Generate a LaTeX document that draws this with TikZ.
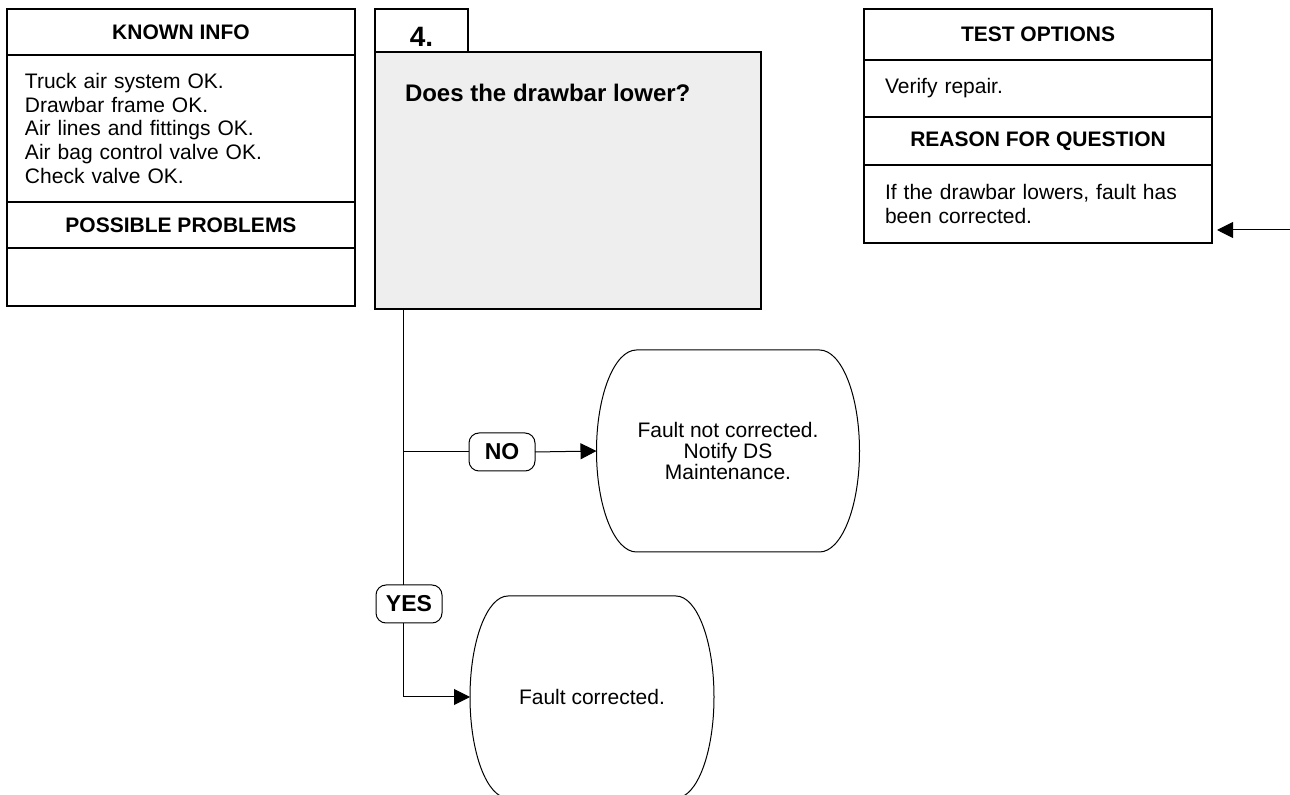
\documentclass[tikz,border=0pt]{standalone}
\usepackage{fontspec}
\setmainfont{Liberation Sans}
\usetikzlibrary{arrows.meta,positioning,calc}
\definecolor{stepgrey}{HTML}{EEEEEE}

\begin{document}
\begin{tikzpicture}[x=0.5pt,y=-0.5pt,
      node distance=0pt,
      every node/.style={outer sep=0pt},
      hdr/.style={draw,line width=0.65pt,minimum width=174pt,inner sep=0pt,
                  font=\fontsize{10.5}{12}\selectfont\bfseries},
      panel/.style={draw,line width=0.65pt,minimum width=174pt,text width=156pt,
                    inner xsep=9pt,inner ysep=0pt,align=left,
                    font=\fontsize{10.5}{11.85}\selectfont},
      steptab/.style={draw,line width=0.65pt,minimum width=46.5pt,minimum height=21.5pt,
                      inner sep=0pt,text height=16.5pt,text depth=0pt,
                      font=\fontsize{14}{14}\selectfont\bfseries},
      stepbox/.style={draw,line width=0.65pt,fill=stepgrey,minimum width=193pt,
                      minimum height=128.5pt,inner sep=0pt},
      terminal/.style={inner sep=0pt,minimum height=101pt,align=center,
                       font=\fontsize{10.5}{10.4}\selectfont},
      tag/.style={draw,line width=0.5pt,rounded corners=5pt,minimum width=33pt,minimum height=19pt,
                  inner sep=0pt,fill=white,font=\fontsize{11.5}{12}\selectfont\bfseries},
      conn/.style={line width=0.5pt},
      arr/.style={conn,-{Triangle[length=8pt,width=8pt]}}]
    \useasboundingbox (0,0) rectangle (1290,795);
    \node[hdr,anchor=north west,minimum height=23pt] (known) at (7,9) {KNOWN INFO};
    \node[panel,below=of known,minimum height=73.5pt] (knownbody) {Truck air system OK.\\ Drawbar frame OK.\\ Air lines and fittings OK.\\ Air bag control valve OK.\\ Check valve OK.};
    \node[hdr,below=of knownbody,minimum height=23pt] (probs) {POSSIBLE PROBLEMS};
    \node[panel,below=of probs,minimum height=29pt] (probsbody) {};
    \node[steptab,anchor=north west] (tab) at (375,9) {4.};
    \node[stepbox,anchor=north west] (stepbody) at (tab.south west) {};
    \node[anchor=base west,inner sep=0pt,font=\fontsize{12}{12}\selectfont\bfseries] (question) at (405,102) {Does the drawbar lower?};
    \node[hdr,anchor=north west,minimum height=25.5pt] (tests) at (864,9) {TEST OPTIONS};
    \node[panel,below=of tests,minimum height=28.5pt,inner xsep=10.5pt,text width=153pt] (testsbody) {Verify repair.};
    \node[hdr,below=of testsbody,minimum height=24pt] (reason) {REASON FOR QUESTION};
    \node[panel,below=of reason,minimum height=39pt,inner xsep=10.5pt,text width=153pt] (reasonbody) {If the drawbar lowers, fault has\\ been corrected.};
    \node[terminal,minimum width=131.5pt] (notfixed) at (728,451) {Fault not corrected.\\ Notify DS\\ Maintenance.};
    \node[terminal,minimum width=122pt] (fixed) at (592,697) {Fault corrected.};
    \draw[conn] ($(notfixed.north west)+(40,0)$) -- ($(notfixed.north east)+(-40,0)$)
      arc[start angle=90,end angle=-90,x radius=20pt,y radius=50.5pt]
      -- ($(notfixed.south west)+(40,0)$)
      arc[start angle=270,end angle=90,x radius=20pt,y radius=50.5pt] -- cycle;
    \draw[conn] ($(fixed.north west)+(38,0)$) -- ($(fixed.north east)+(-38,0)$)
      arc[start angle=90,end angle=-90,x radius=19pt,y radius=50.5pt]
      -- ($(fixed.south west)+(38,0)$)
      arc[start angle=270,end angle=90,x radius=19pt,y radius=50.5pt] -- cycle;
    \coordinate (trunk) at ($(stepbody.south west)+(28,0)$);
    \coordinate (nobranch) at (trunk |- 0,452);
    \coordinate (infeed) at (1290,230);
    \node[tag] (no) at (502,452) {NO};
    \node[tag] (yes) at (409,604) {YES};
    \draw[conn] (trunk) -- (trunk |- yes.north);
    \draw[conn] (nobranch) -- (no.west);
    \draw[arr] (no.east) -- (notfixed.west);
    \draw[arr] (trunk |- yes.south) |- (fixed.west);
    \draw[arr,shorten >=2.5pt] (infeed) -- (infeed -| reasonbody.east);
  \end{tikzpicture}
\end{document}
